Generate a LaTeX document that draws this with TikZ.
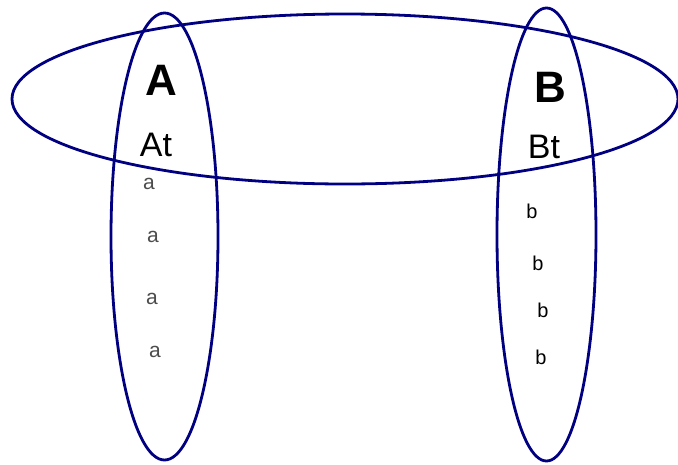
\documentclass[tikz,border=0pt]{standalone}
\usepackage{fontspec}
\setmainfont{Liberation Sans}
\definecolor{setblue}{RGB}{0,0,128}
\tikzset{
  setline/.style={line width=2.8pt, draw=setblue},
  bigname/.style={font=\fontsize{44}{48}\selectfont\bfseries},
  subname/.style={font=\fontsize{34}{36}\selectfont},
  elema/.style={font=\fontsize{21}{24}\selectfont, text=black!70},
  elemb/.style={font=\fontsize{20}{24}\selectfont},
}
\begin{document}
\begin{tikzpicture}[x=1pt, y=-1pt]
    \useasboundingbox (0,0) rectangle (678,464);

    \coordinate (O) at (345,99);
    \draw[setline] (O) ellipse (333 and 85);

    \coordinate (OA) at (164.5,236.5);
    \draw[setline] (OA) ellipse (53.5 and 223.5);
    \node[bigname] (A) at (161,80) {A};
    \node[subname] (At) at (156,145) {At};
    \node[elema] (a1) at (149,184) {a};
    \node[elema] (a2) at (153,237) {a};
    \node[elema] (a3) at (152,299) {a};
    \node[elema] (a4) at (155,352) {a};

    \coordinate (OB) at (546.5,234.5);
    \draw[setline] (OB) ellipse (49.5 and 226.5);
    \node[bigname] (B) at (550,87) {B};
    \node[subname] (Bt) at (544,147) {Bt};
    \node[elemb] (b1) at (532,211) {b};
    \node[elemb] (b2) at (538,263) {b};
    \node[elemb] (b3) at (543,310) {b};
    \node[elemb] (b4) at (541,357) {b};
  \end{tikzpicture}
\end{document}
